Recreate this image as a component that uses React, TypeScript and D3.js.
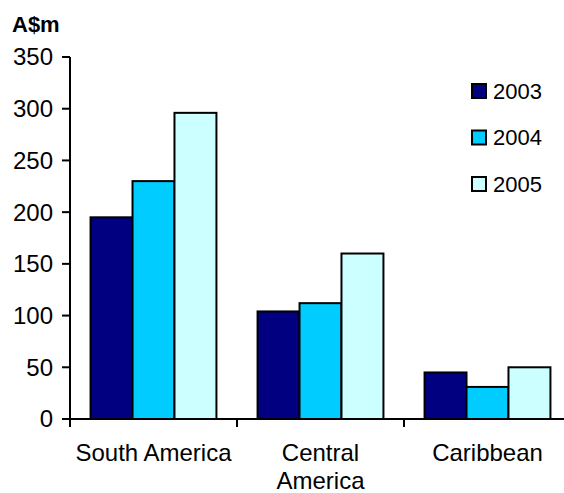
import React from "react";
import * as d3 from "d3";

const categories = ["South America", "Central America", "Caribbean"];
const categoryLines = [["South America"], ["Central", "America"], ["Caribbean"]];
const years = ["2003", "2004", "2005"];
const values2003 = [195, 104, 45];
const values2004 = [230, 112, 31];
const values2005 = [296, 160, 50];
const yTicks = [0, 50, 100, 150, 200, 250, 300, 350];
const colors = ["#000080", "#00CCFF", "#CCFFFF"];

export default function App() {
  const W = 564, H = 493;
  const x0 = 70, x1 = 571, yBottom = 419, yTop = 57;
  const series = [values2003, values2004, values2005];
  const x = d3.scaleBand<string>().domain(categories).range([x0, x1]).paddingInner(0).paddingOuter(0);
  const inner = d3.scaleBand<string>().domain(years).range([0, x.bandwidth()]).paddingInner(0).paddingOuter(0.49);
  const y = d3.scaleLinear().domain([0, 350]).range([yBottom, yTop]);
  const font = "'Liberation Sans', Arial, sans-serif";
  const fs = 24;
  const boundaries = [...categories.map((c) => x(c)!), x1];

  return (
    <svg width={W} height={H} style={{ position: "absolute", left: 0, top: 0, background: "#fff" }} fontFamily={font}>
      <rect width={W} height={H} fill="#fff" />
      <text x={12} y={32} fontSize={22} fontWeight="bold">A$m</text>
      {categories.map((c, ci) =>
        series.map((s, si) => (
          <rect key={c + si} x={x(c)! + inner(years[si])!} y={y(s[ci])} width={inner.bandwidth()} height={yBottom - y(s[ci])}
            fill={colors[si]} stroke="#000" strokeWidth={2} />
        ))
      )}
      <line x1={x0} y1={yTop} x2={x0} y2={yBottom} stroke="#000" strokeWidth={2} />
      <line x1={x0} y1={yBottom} x2={W} y2={yBottom} stroke="#000" strokeWidth={2} />
      {yTicks.map((t) => (
        <g key={t}>
          <line x1={62} x2={x0} y1={y(t)} y2={y(t)} stroke="#000" strokeWidth={2} />
          <text x={53} y={y(t)} dy="0.35em" textAnchor="end" fontSize={fs}>{t}</text>
        </g>
      ))}
      {boundaries.map((b, i) => (
        <line key={i} x1={b} x2={b} y1={yBottom} y2={yBottom + 8} stroke="#000" strokeWidth={2} />
      ))}
      {categories.map((c, ci) => (
        <text key={c} x={x(c)! + x.bandwidth() / 2} y={461} textAnchor="middle" fontSize={fs}>
          {categoryLines[ci].map((l, li) => (
            <tspan key={li} x={x(c)! + x.bandwidth() / 2} dy={li === 0 ? 0 : 28}>{l}</tspan>
          ))}
        </text>
      ))}
      {years.map((yr, i) => (
        <g key={yr} transform={`translate(472, ${84 + i * 46.5})`}>
          <rect x={0} y={0} width={14} height={14} fill={colors[i]} stroke="#000" strokeWidth={2} />
          <text x={21} y={7} dy="0.35em" fontSize={22}>{yr}</text>
        </g>
      ))}
    </svg>
  );
}
